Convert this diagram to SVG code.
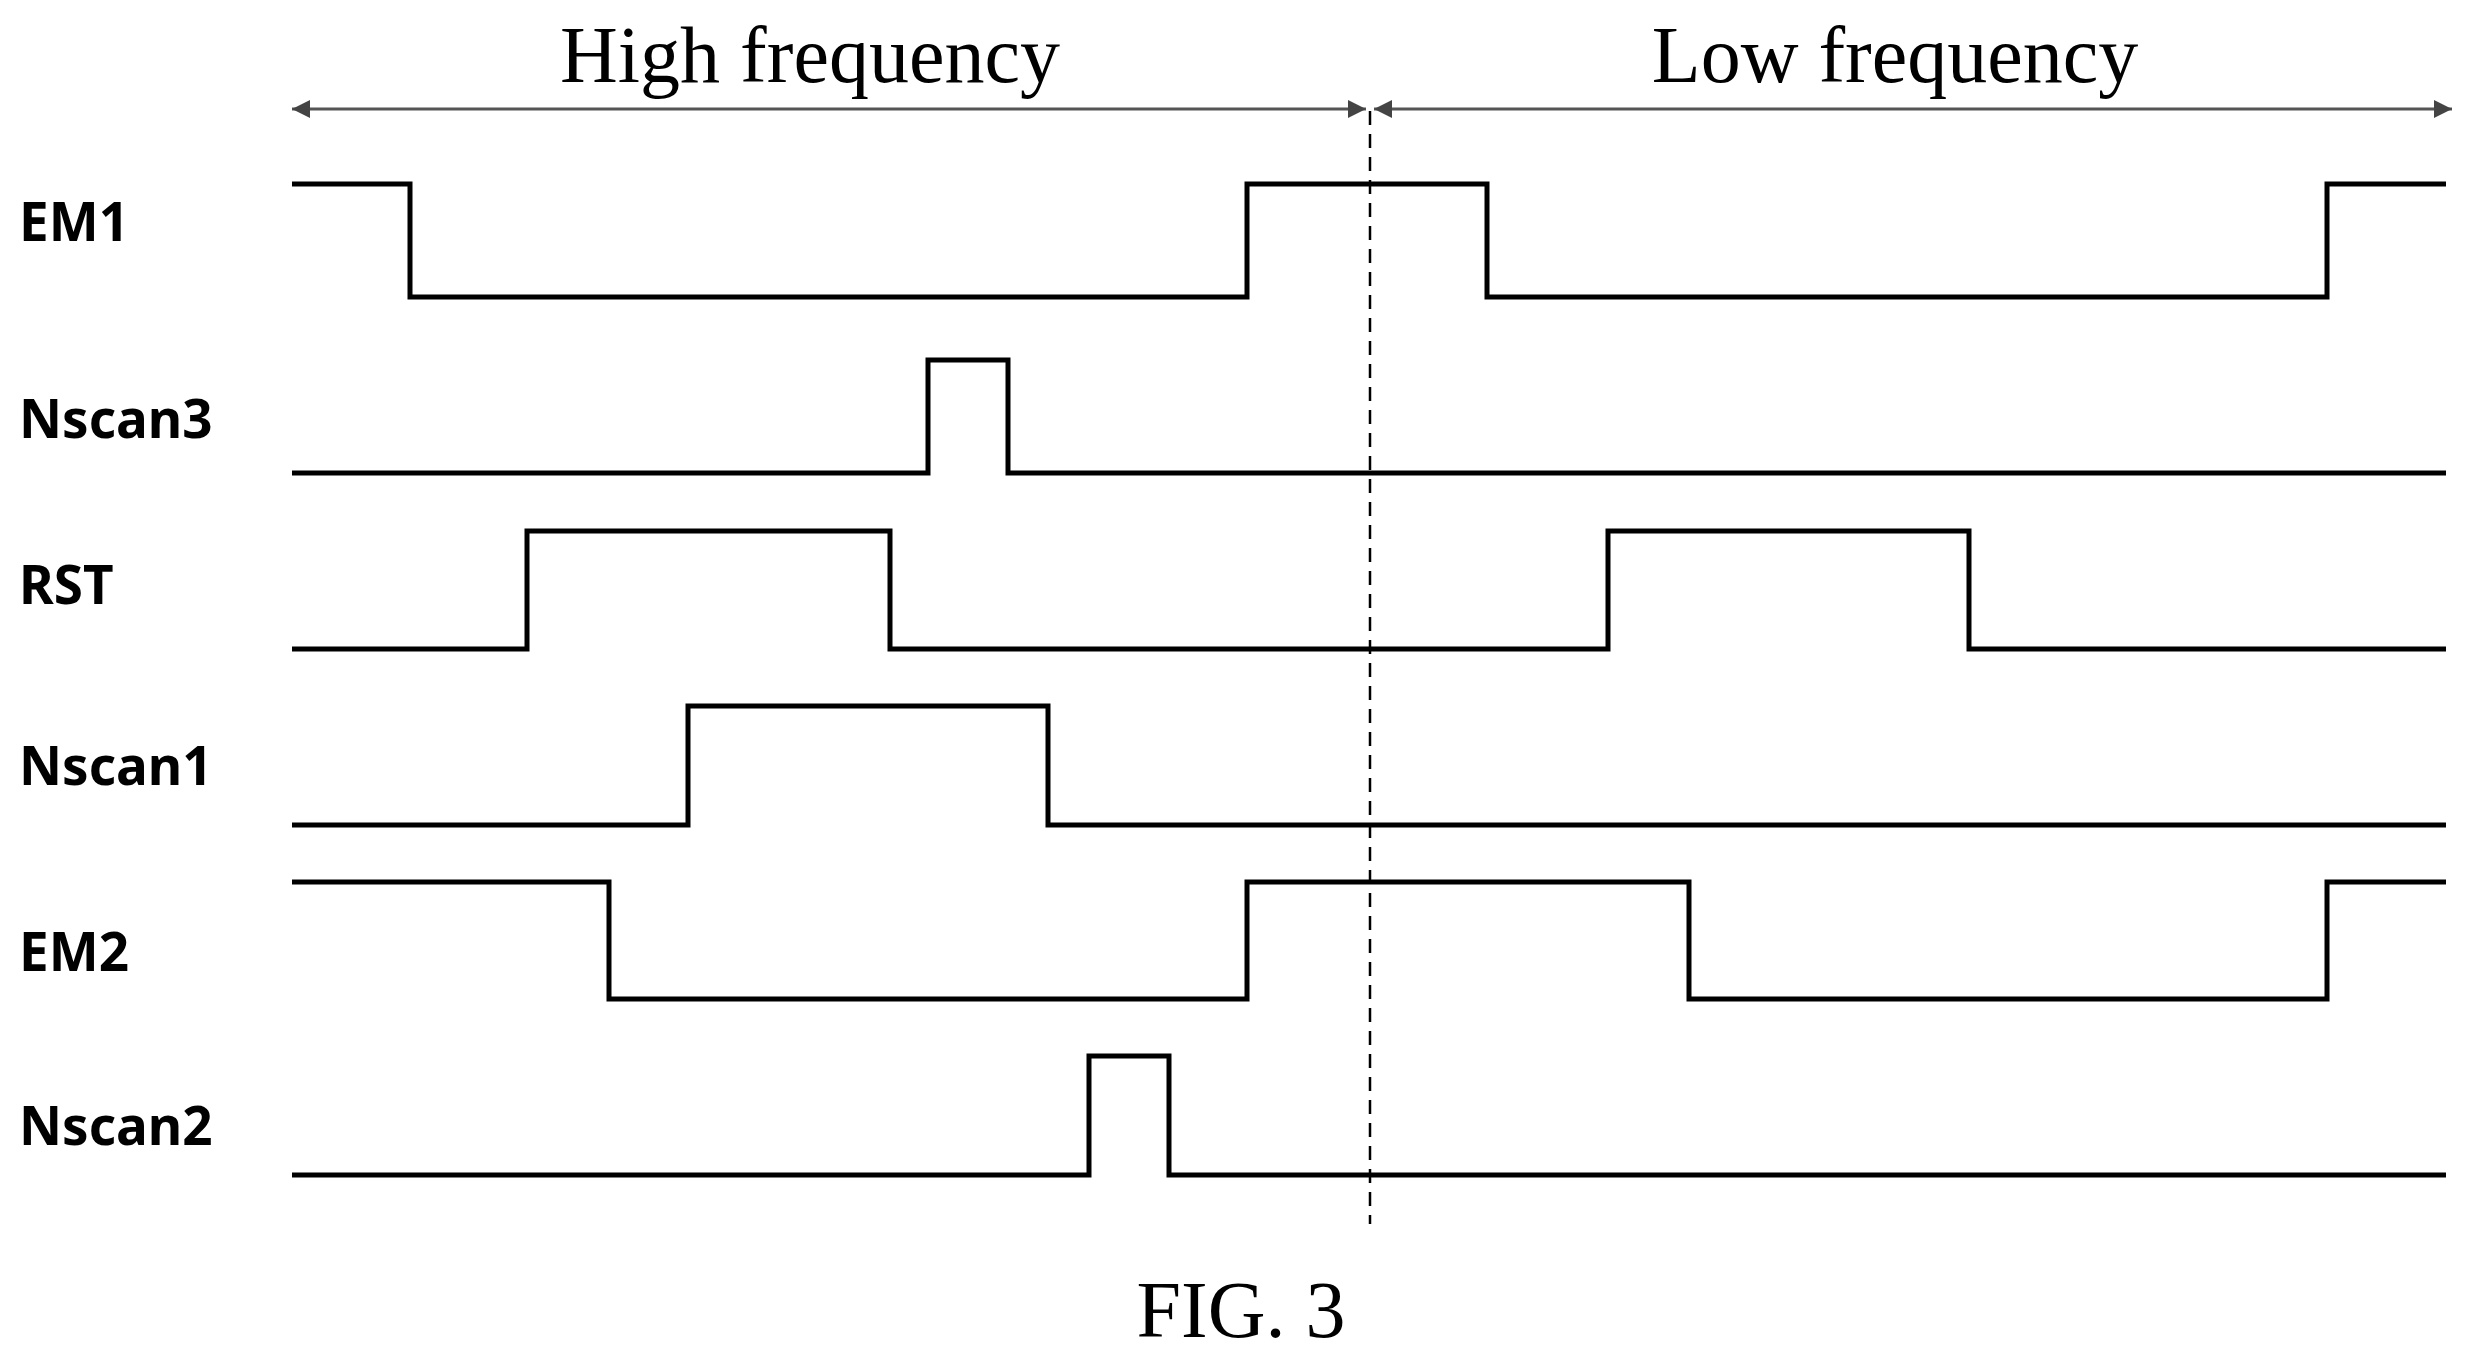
<svg xmlns="http://www.w3.org/2000/svg" width="2474" height="1351" viewBox="0 0 2474 1351">
<style>
.sig{fill:none;stroke:#000;stroke-width:5}
.lbl{font-family:"Noto Sans","Open Sans",sans-serif;font-weight:bold;font-size:53px}
.ttl{font-family:"Liberation Serif",serif;font-size:80px;text-anchor:middle}
.arr{stroke:#555;stroke-width:3;fill:none}
</style>
<defs>
<marker id="ah" viewBox="0 0 10 10" refX="10" refY="5" markerWidth="6" markerHeight="6" orient="auto-start-reverse"><path d="M0,0L10,5L0,10z" fill="#444"/></marker>
</defs>
<rect width="2474" height="1351" fill="#fff"/>
<text class="ttl" x="810" y="82">High frequency</text>
<text class="ttl" x="1895" y="82">Low frequency</text>
<g id="connectors">
<line class="arr" x1="292" y1="109" x2="1366" y2="109" marker-start="url(#ah)" marker-end="url(#ah)"/>
<line class="arr" x1="1374" y1="109" x2="2452" y2="109" marker-start="url(#ah)" marker-end="url(#ah)"/>
<line x1="1370" y1="111" x2="1370" y2="1224" stroke="#000" stroke-width="2.5" stroke-dasharray="14,9"/>
</g>
<g id="EM1"><text class="lbl" x="19" y="241">EM1</text>
<path class="sig" d="M292,184H410V297H1247V184H1487V297H2327V184H2446"/></g>
<g id="Nscan3"><text class="lbl" x="19" y="438">Nscan3</text>
<path class="sig" d="M292,473H928V360H1008V473H2446"/></g>
<g id="RST"><text class="lbl" x="19" y="604">RST</text>
<path class="sig" d="M292,649H527V531H890V649H1608V531H1969V649H2446"/></g>
<g id="Nscan1"><text class="lbl" x="19" y="785">Nscan1</text>
<path class="sig" d="M292,825H688V706H1048V825H2446"/></g>
<g id="EM2"><text class="lbl" x="19" y="971">EM2</text>
<path class="sig" d="M292,882H609V999H1247V882H1689V999H2327V882H2446"/></g>
<g id="Nscan2"><text class="lbl" x="19" y="1145">Nscan2</text>
<path class="sig" d="M292,1175H1089V1056H1169V1175H2446"/></g>
<text class="ttl" x="1241" y="1337" font-size="84">FIG. 3</text>
</svg>
